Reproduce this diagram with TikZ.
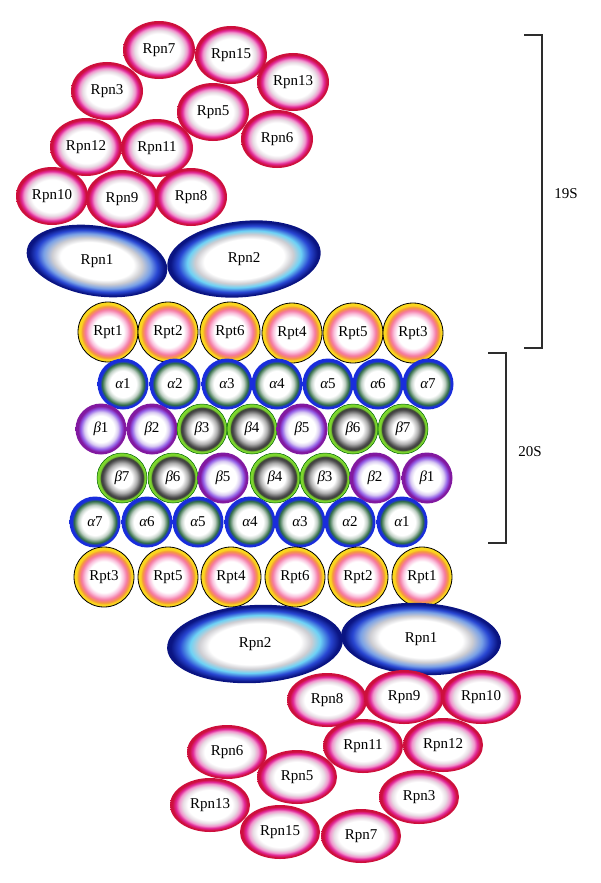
\documentclass[tikz,border=0pt]{standalone}
\usepackage{fontspec}
\setmainfont{Liberation Serif}
\usetikzlibrary{shapes.geometric}
\definecolor{rpnOut}{RGB}{205,15,60}
\definecolor{rpnMid}{RGB}{225,40,150}
\definecolor{rpnPink}{RGB}{240,150,205}
\definecolor{rpnLite}{RGB}{232,220,228}
\definecolor{navy}{RGB}{10,20,130}
\definecolor{bluem}{RGB}{40,70,210}
\definecolor{bluel}{RGB}{120,160,230}
\definecolor{cyanl}{RGB}{110,210,245}
\definecolor{grayl}{RGB}{205,205,210}
\definecolor{rptY}{RGB}{250,215,30}
\definecolor{rptO}{RGB}{245,150,60}
\definecolor{rptP}{RGB}{245,120,160}
\definecolor{rptL}{RGB}{250,195,222}
\definecolor{alB}{RGB}{25,45,220}
\definecolor{alG}{RGB}{50,110,70}
\definecolor{alL}{RGB}{195,210,200}
\definecolor{beP}{RGB}{130,25,160}
\definecolor{beV}{RGB}{145,90,230}
\definecolor{beL}{RGB}{218,205,242}
\definecolor{beG}{RGB}{125,215,45}
\definecolor{beD}{RGB}{80,80,80}
\definecolor{beK}{RGB}{55,55,55}
\definecolor{beM}{RGB}{175,175,175}
\definecolor{brk}{RGB}{45,45,45}
\pgfdeclareradialshading{rpnshade}{\pgfpoint{0bp}{0bp}}{color(0bp)=(white); color(14bp)=(white); color(17bp)=(rpnLite); color(19.5bp)=(rpnPink); color(21.5bp)=(rpnMid); color(23.5bp)=(rpnOut); color(25bp)=(rpnOut); color(50bp)=(rpnOut)}
\pgfdeclareradialshading{blueAshade}{\pgfpoint{0bp}{0bp}}{color(0bp)=(white); color(13bp)=(white); color(16bp)=(grayl); color(19bp)=(bluel); color(21.5bp)=(bluem); color(24bp)=(navy); color(25bp)=(navy); color(50bp)=(navy)}
\pgfdeclareradialshading{blueBshade}{\pgfpoint{0bp}{0bp}}{color(0bp)=(white); color(13bp)=(white); color(16bp)=(grayl); color(18.5bp)=(cyanl); color(21.5bp)=(bluem); color(24bp)=(navy); color(25bp)=(navy); color(50bp)=(navy)}
\pgfdeclareradialshading{rptshade}{\pgfpoint{0bp}{0bp}}{color(0bp)=(white); color(13bp)=(white); color(16bp)=(rptL); color(19bp)=(rptP); color(21.5bp)=(rptO); color(23bp)=(rptY); color(25bp)=(rptY); color(50bp)=(rptY)}
\pgfdeclareradialshading{alphashade}{\pgfpoint{0bp}{0bp}}{color(0bp)=(white); color(13bp)=(white); color(16.5bp)=(alL); color(20.5bp)=(alG); color(22.5bp)=(alB); color(25bp)=(alB); color(50bp)=(alB)}
\pgfdeclareradialshading{betaPshade}{\pgfpoint{0bp}{0bp}}{color(0bp)=(white); color(13bp)=(white); color(16.5bp)=(beL); color(20bp)=(beV); color(22.5bp)=(beP); color(25bp)=(beP); color(50bp)=(beP)}
\pgfdeclareradialshading{betaGshade}{\pgfpoint{0bp}{0bp}}{color(0bp)=(white); color(10bp)=(white); color(15bp)=(beM); color(19bp)=(beD); color(21bp)=(beK); color(22.5bp)=(beG); color(25bp)=(beG); color(50bp)=(beG)}
\newcommand{\lblfont}{\fontsize{15}{16}\selectfont}
\newcommand{\ga}{{\itshape α}}
\newcommand{\gb}{{\itshape β}}
\begin{document}
\begin{tikzpicture}[x=1pt,y=-1pt,
  rpn/.style={ellipse, shade, shading=rpnshade, minimum width=72pt, minimum height=58pt, inner sep=0pt, font=\lblfont},
  rpnb/.style={rpn, minimum width=80pt, minimum height=54pt},
  bluea/.style={ellipse, shade, shading=blueAshade, inner sep=0pt},
  blueb/.style={ellipse, shade, shading=blueBshade, inner sep=0pt},
  txt/.style={font=\lblfont, inner sep=0pt},
  rpt/.style={circle, shade, shading=rptshade, draw=black, line width=0.8pt, minimum size=60pt, inner sep=0pt, font=\lblfont},
  alp/.style={circle, shade, shading=alphashade, minimum size=51pt, inner sep=0pt, font=\lblfont},
  betp/.style={circle, shade, shading=betaPshade, minimum size=51pt, inner sep=0pt, font=\lblfont},
  betg/.style={circle, shade, shading=betaGshade, draw=black!60!green, line width=0.5pt, minimum size=50pt, inner sep=0pt, font=\lblfont},
  bracket/.style={draw=brk, line width=1.1pt},
  lab/.style={font=\fontsize{15}{16}\selectfont, inner sep=0pt}]
\useasboundingbox (0,0) rectangle (600,883);

% ---------- top 19S ----------
\node[rpn] (t7) at (159,50) {Rpn7};
\node[rpn] (t15) at (231,55) {Rpn15};
\node[rpn] (t13) at (293,82) {Rpn13};
\node[rpn] (t3) at (107,91) {Rpn3};
\node[rpn] (t5) at (213,112) {Rpn5};
\node[rpn] (t6) at (277,139) {Rpn6};
\node[rpn] (t12) at (86,147) {Rpn12};
\node[rpn] (t11) at (157,148) {Rpn11};
\node[rpn] (t10) at (52,196) {Rpn10};
\node[rpn] (t9) at (122,199) {Rpn9};
\node[rpn] (t8) at (191,197) {Rpn8};

\begin{scope}[transform canvas={shift={(97,261)}, rotate=-9}]
  \node[bluea, minimum width=142pt, minimum height=70pt] (t1) at (0,0) {};
\end{scope}
\node[txt] (t1l) at (97,261) {Rpn1};
\begin{scope}[transform canvas={shift={(244,259)}, rotate=6}]
  \node[blueb, minimum width=154pt, minimum height=76pt] (t2) at (0,0) {};
\end{scope}
\node[txt] (t2l) at (244,259) {Rpn2};

\node[rpt] (ua1) at (108,332) {Rpt1};
\node[rpt] (ua2) at (168,332) {Rpt2};
\node[rpt] (ua6) at (230,332) {Rpt6};
\node[rpt] (ua4) at (292,333) {Rpt4};
\node[rpt] (ua5) at (353,333) {Rpt5};
\node[rpt] (ua3) at (413,333) {Rpt3};

% ---------- 20S ----------
\node[alp] (a11) at (123,384) {\ga1};
\node[alp] (a12) at (175,384) {\ga2};
\node[alp] (a13) at (227,384) {\ga3};
\node[alp] (a14) at (277,384) {\ga4};
\node[alp] (a15) at (328,384) {\ga5};
\node[alp] (a16) at (378,384) {\ga6};
\node[alp] (a17) at (428,384) {\ga7};

\node[betp] (b11) at (101,429) {\gb1};
\node[betp] (b12) at (152,429) {\gb2};
\node[betg] (b13) at (202,429) {\gb3};
\node[betg] (b14) at (252,429) {\gb4};
\node[betp] (b15) at (302,429) {\gb5};
\node[betg] (b16) at (353,429) {\gb6};
\node[betg] (b17) at (403,429) {\gb7};

\node[betg] (b27) at (122,478) {\gb7};
\node[betg] (b26) at (173,478) {\gb6};
\node[betp] (b25) at (223,478) {\gb5};
\node[betg] (b24) at (275,478) {\gb4};
\node[betg] (b23) at (325,478) {\gb3};
\node[betp] (b22) at (375,478) {\gb2};
\node[betp] (b21) at (427,478) {\gb1};

\node[alp] (a27) at (95,522) {\ga7};
\node[alp] (a26) at (147,522) {\ga6};
\node[alp] (a25) at (198,522) {\ga5};
\node[alp] (a24) at (250,522) {\ga4};
\node[alp] (a23) at (300,522) {\ga3};
\node[alp] (a22) at (350,522) {\ga2};
\node[alp] (a21) at (402,522) {\ga1};

% ---------- bottom 19S ----------
\node[rpt] (la3) at (104,577) {Rpt3};
\node[rpt] (la5) at (168,577) {Rpt5};
\node[rpt] (la4) at (231,577) {Rpt4};
\node[rpt] (la6) at (295,577) {Rpt6};
\node[rpt] (la2) at (358,577) {Rpt2};
\node[rpt] (la1) at (422,577) {Rpt1};

\begin{scope}[transform canvas={shift={(255,644)}, rotate=3}]
  \node[blueb, minimum width=176pt, minimum height=78pt] (b2) at (0,0) {};
\end{scope}
\node[txt] (b2l) at (255,644) {Rpn2};
\begin{scope}[transform canvas={shift={(421,639)}, rotate=-3}]
  \node[bluea, minimum width=160pt, minimum height=72pt] (b1) at (0,0) {};
\end{scope}
\node[txt] (b1l) at (421,639) {Rpn1};

\node[rpnb] (l8) at (327,700) {Rpn8};
\node[rpnb] (l9) at (404,697) {Rpn9};
\node[rpnb] (l10) at (481,697) {Rpn10};
\node[rpnb] (l11) at (363,746) {Rpn11};
\node[rpnb] (l12) at (443,745) {Rpn12};
\node[rpnb] (l6) at (227,752) {Rpn6};
\node[rpnb] (l5) at (297,777) {Rpn5};
\node[rpnb] (l3) at (419,797) {Rpn3};
\node[rpnb] (l13) at (210,805) {Rpn13};
\node[rpnb] (l15) at (280,832) {Rpn15};
\node[rpnb] (l7) at (361,836) {Rpn7};

% ---------- brackets ----------
\coordinate (p1) at (524,35);
\coordinate (p2) at (542,35);
\coordinate (p3) at (542,348);
\coordinate (p4) at (524,348);
\draw[bracket] (p1) -- (p2) -- (p3) -- (p4);
\node[lab] (s19) at (566,194) {19S};
\coordinate (q1) at (488,353);
\coordinate (q2) at (506,353);
\coordinate (q3) at (506,543);
\coordinate (q4) at (488,543);
\draw[bracket] (q1) -- (q2) -- (q3) -- (q4);
\node[lab] (s20) at (530,452) {20S};
\end{tikzpicture}
\end{document}
